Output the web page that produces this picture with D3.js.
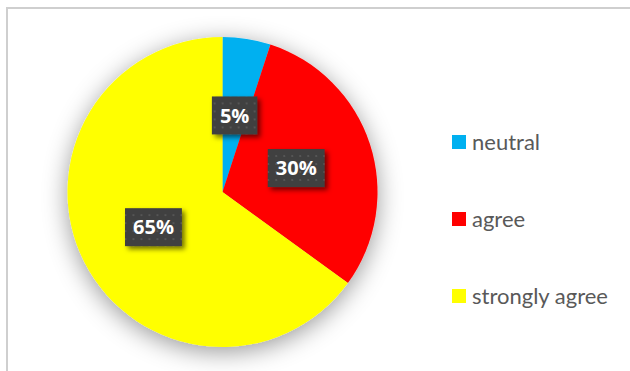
<!DOCTYPE html>
<html>
<head>
<meta charset="utf-8">
<script src="https://cdn.jsdelivr.net/npm/d3@7"></script>
<style>
  html, body { margin: 0; padding: 0; background: #fff; }
  svg { display: block; }
</style>
</head>
<body>
<svg id="chart" width="630" height="371"></svg>
<script>
// Survey responses
const categories = ["neutral", "agree", "strongly agree"];
const values = [5, 30, 65];
const colors = ["#00B0F0", "#FF0000", "#FFFF00"];

const W = 630, H = 371;
const svg = d3.select("#chart");

const defs = svg.append("defs");

// soft glow behind the pie
const glow = defs.append("filter").attr("id", "pieShadow")
  .attr("x", "-30%").attr("y", "-30%").attr("width", "160%").attr("height", "160%");
glow.append("feDropShadow")
  .attr("dx", 0).attr("dy", 5).attr("stdDeviation", 12)
  .attr("flood-color", "#000").attr("flood-opacity", 0.4);

// shadow for the value labels
const lblShadow = defs.append("filter").attr("id", "lblShadow")
  .attr("x", "-30%").attr("y", "-30%").attr("width", "160%").attr("height", "160%");
lblShadow.append("feDropShadow")
  .attr("dx", 3).attr("dy", 3).attr("stdDeviation", 2.5)
  .attr("flood-color", "#000").attr("flood-opacity", 0.55);

// dotted texture on the label boxes
const pat = defs.append("pattern").attr("id", "dots")
  .attr("patternUnits", "userSpaceOnUse").attr("width", 8).attr("height", 8);
pat.append("rect").attr("width", 8).attr("height", 8).attr("fill", "#3f3f3f");
pat.append("rect").attr("x", 3).attr("y", 3).attr("width", 2).attr("height", 2).attr("fill", "#555");

// chart area frame
svg.append("rect")
  .attr("x", 7).attr("y", 8).attr("width", W + 20).attr("height", H + 20)
  .attr("fill", "#fff").attr("stroke", "#cfcfcf").attr("stroke-width", 2);

const cx = 222.5, cy = 192, r = 155;

const pie = d3.pie().sort(null).value(d => d)(values);
const arc = d3.arc().innerRadius(0).outerRadius(r);
const labelArc = d3.arc().innerRadius(r * 0.5).outerRadius(r * 0.5);

const g = svg.append("g").attr("transform", `translate(${cx},${cy})`);

g.append("g").attr("filter", "url(#pieShadow)")
  .selectAll("path").data(pie).join("path")
  .attr("d", arc)
  .attr("fill", (d, i) => colors[i]);

// value labels
const color = d3.scaleOrdinal().domain(categories).range(colors);
const lbl = g.selectAll("g.lbl").data(pie).join("g")
  .attr("class", "lbl")
  .attr("transform", d => `translate(${labelArc.centroid(d)})`);

lbl.each(function(d) {
  const s = d3.select(this);
  const t = s.append("text")
    .attr("text-anchor", "middle")
    .attr("dy", "0.36em")
    .attr("font-family", "'Open Sans', sans-serif")
    .attr("font-weight", "bold")
    .attr("font-size", 20)
    .attr("fill", "#fff")
    .text(d.data + "%");
  const bb = t.node().getBBox();
  const w = bb.width + 16, h = 38;
  s.insert("rect", "text")
    .attr("x", -w / 2).attr("y", -h / 2)
    .attr("width", w).attr("height", h)
    .attr("fill", "url(#dots)")
    .attr("filter", "url(#lblShadow)");
});

// legend
const y = d3.scalePoint().domain(categories).range([142, 296]);
const leg = svg.append("g").selectAll("g").data(categories).join("g")
  .attr("transform", d => `translate(452,${y(d)})`);
leg.append("rect")
  .attr("x", 0).attr("y", -7).attr("width", 14).attr("height", 14)
  .attr("fill", d => color(d));
leg.append("text")
  .attr("x", 20).attr("y", 7.5)
  .attr("font-family", "Lato, sans-serif")
  .attr("font-size", 22)
  .attr("fill", "#595959")
  .text(d => d);
</script>
</body>
</html>
